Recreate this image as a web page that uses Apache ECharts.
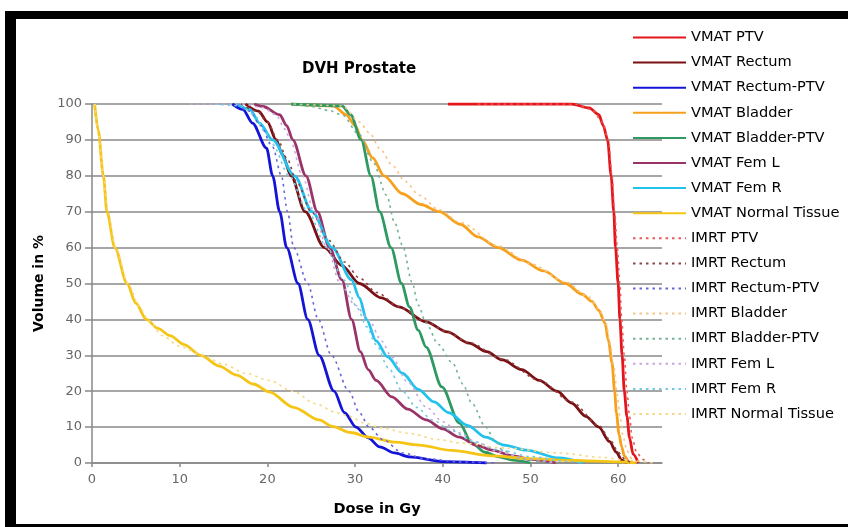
<!DOCTYPE html>
<html>
<head>
<meta charset="utf-8">
<script src="https://cdn.jsdelivr.net/npm/echarts@6/dist/echarts.min.js"></script>
<style>
html,body{margin:0;padding:0;background:#fff;}
#chart{position:absolute;left:0;top:0;width:848px;height:527px;}
#frame{position:absolute;left:5px;top:11px;width:900px;height:505px;border-left:11px solid #000;border-top:8px solid #000;border-bottom:3px solid #000;pointer-events:none;}
</style>
</head>
<body>
<div id="chart"></div>
<div id="frame"></div>
<script>
// ---- data (dose in Gy, volume in %) ----
var seriesNames = ['VMAT PTV','VMAT Rectum','VMAT Rectum-PTV','VMAT Bladder','VMAT Bladder-PTV','VMAT Fem L','VMAT Fem R','VMAT Normal Tissue',
  'IMRT PTV','IMRT Rectum','IMRT Rectum-PTV','IMRT Bladder','IMRT Bladder-PTV','IMRT Fem L','IMRT Fem R','IMRT Normal Tissue'];
var xTicks = [0,10,20,30,40,50,60];

var vmatPTV = [[40.6,100],[54.7,100],[56.7,98.9],[57.8,97],[58.3,94],[58.8,90],[59.2,80],[59.5,70],[59.7,60],[60,50],[60.2,40],[60.45,30],[60.7,20],[61,13],[61.3,7],[61.7,2.5],[62.3,0]];
var vmatRectum = [[17.5,100],[19,98],[20,95],[21,90],[21.7,86],[22.7,80],[24.3,70],[26.5,60],[28.5,55],[30.5,50],[33,46],[35,43.5],[38.1,39.3],[40.5,36.5],[43,33.4],[45,31],[46.8,28.7],[49,26],[51,23],[53,20],[54.7,16.7],[56.3,13],[57.8,10],[59,6],[59.8,3],[60.4,0.8],[61,0]];
var vmatRectumPTV = [[16,100],[17.2,98.5],[18.3,94.7],[19.9,87.7],[20.6,80],[21.4,70],[22.2,60],[23.5,50],[24.6,40],[25.9,30],[27.6,20],[28.8,14],[30.1,10],[31.5,7],[32.8,4.5],[34.5,2.8],[36.2,1.7],[40,0.4],[45,0]];
var vmatBladder = [[22.7,100],[27.5,99.5],[29,97],[30,94],[30.8,90],[32,85],[33.3,80],[35.4,75],[37.5,72],[39.6,70],[42,66.5],[44,63],[46.3,60],[49,56.5],[51.5,53.5],[54,50],[55.9,47],[57,45],[57.8,42.5],[58.5,39],[58.9,34],[59.3,27.9],[59.6,20],[59.8,14],[60.1,8],[60.4,4.5],[60.7,2],[61.2,0]];
var vmatBladderPTV = [[22.7,100],[28.5,99.5],[29.5,97],[30.7,90],[31.8,80],[32.8,70],[34.1,60],[35.3,50],[36.2,43.5],[37.2,37],[38.1,32.3],[39.9,21.2],[41.9,11.1],[43.3,5.6],[44.8,3],[46.4,1.7],[48,0.8],[50,0]];
var vmatFemL = [[18.5,100],[19.5,99.3],[21.4,97],[22.2,94],[22.9,90],[24.4,80],[25.7,70],[27.1,60],[28.5,51],[29.6,40],[30.6,31],[31.5,26],[32.4,23],[34.2,18.4],[36,15],[38.1,12],[40,9.5],[41.9,7.2],[43.8,5],[45.6,3.6],[48,2],[50,1],[53,0]];
var vmatFemR = [[16.5,100],[18,98.5],[19.1,94.7],[20.6,90],[23.1,80],[25.1,70],[27.4,60],[29.6,51],[30.5,46],[31.3,40],[32.4,34],[33.7,29.6],[35.4,25],[37.2,20.5],[39,17],[40.7,14],[42.8,10.5],[44.9,7.2],[47,5],[49.5,3.6],[53.2,1.4],[56,0]];
var vmatNormal = [[0.3,100],[0.7,92.8],[1.3,80],[1.7,70],[2.6,60],[4,50],[5,44.5],[6.2,40],[7.5,37.5],[8.9,35.5],[10.5,33],[12.4,30],[14.5,27],[16.5,24.5],[18.4,22],[20.2,19.8],[23,15.5],[25.9,12],[27.4,10.2],[29.5,8.5],[31.6,7.2],[34.5,5.8],[37.3,5],[41,3.5],[45.6,2],[50,1.2],[55,0.7],[60,0.3],[62,0]];

var imrtPTV = [[44,100],[55,100],[57,98.5],[58.2,95],[58.9,90],[59.3,80],[59.6,70],[59.9,60],[60.2,50],[60.4,40],[60.7,30],[61,20],[61.3,13],[61.6,7],[62.1,3],[62.8,1],[63.5,0]];
var imrtRectum = [[17,100],[18.8,98],[20,95],[21.2,90],[22.2,85],[23.4,78],[25,70],[27,62],[28.8,56],[30.5,51.5],[32.5,47.5],[35,43.5],[38,39.5],[40.5,36.5],[43,33.5],[46.8,29],[51,23],[54.7,17],[57.8,10.5],[59.2,6],[60,3],[60.8,1],[61.5,0]];
var imrtRectumPTV = [[16.5,100],[18,98],[19.2,94],[20.6,88],[21.6,80],[22.3,70],[23,60],[24.6,50],[25.8,40],[27.3,30],[29.3,20],[30.5,14],[31.6,10],[33.2,6.5],[35.4,2.8],[38,1.2],[42,0.3],[46,0]];
var imrtBladder = [[23,100],[28.5,99.5],[30.5,95],[31.6,92],[33,87],[34.2,83],[35.7,78.5],[37.3,74.6],[39.6,70.5],[42,67],[46.3,60.5],[50,55.5],[54,50.5],[56.5,46.5],[57.8,43],[58.6,39],[59.1,33],[59.5,27],[59.9,19],[60.2,13],[60.6,7],[61,3.5],[61.6,1],[62.3,0]];
var imrtBladderPTV = [[22.9,100],[25,99.3],[27,98.2],[28.5,97],[30.5,91.4],[32,84],[33.6,74.6],[34.5,67],[35.4,60.7],[36.5,50.4],[37.2,44],[38.1,39],[39.5,33],[41.1,27.9],[42.3,22],[43.3,16.7],[44.9,10],[46,6],[46.8,3.6],[48.5,1.5],[51,0.4],[53,0]];
var imrtFemL = [[11.2,100],[17,100],[19.5,99],[21,97],[22,93],[22.6,90],[24,80],[25.3,70],[26.8,60],[28.3,50],[30,44],[31.6,39.8],[33,34],[34.2,29.5],[36,22.5],[38.1,15.6],[40,11.5],[41.9,8.4],[44,5.5],[46.5,3],[49.5,1.2],[53,0]];
var imrtFemR = [[14,100],[17,99.5],[18.5,97],[19.8,92],[20.5,89],[22.5,80],[24.6,70],[26.8,60],[28.7,51],[30.3,43],[31.3,38],[32.4,33],[33.8,26.5],[35.4,20],[37,15.5],[38.8,12],[41,9],[43.5,6],[46.5,3.6],[50,1.8],[54,0.5],[56,0]];
var imrtNormal = [[0.3,100],[0.7,92],[1.3,80],[1.8,70],[2.7,60],[4.1,50],[5.5,43],[6.5,39.5],[8,35.5],[10,32.5],[12.6,30],[15,27.5],[17.5,25],[20.2,23],[22.9,20],[25.5,16.5],[27.9,14],[29.4,13],[31,11.2],[33,9.8],[36,8.3],[39.6,6.5],[42,5.6],[47,4.2],[53.2,2.8],[58,1.6],[61,0.8],[64,0]];

var seriesData = [vmatPTV,vmatRectum,vmatRectumPTV,vmatBladder,vmatBladderPTV,vmatFemL,vmatFemR,vmatNormal,
  imrtPTV,imrtRectum,imrtRectumPTV,imrtBladder,imrtBladderPTV,imrtFemL,imrtFemR,imrtNormal];

// ---- styles ----
var colors = ['#e4161c','#7a1014','#1414d8','#f7a01c','#2e9a62','#9a3468','#22c2ec','#f5c516',
  '#e85a5a','#8c4444','#6666d8','#f5c484','#74b294','#c8a8dc','#74c8e2','#f5d884'];

var series = seriesNames.map(function(n,i){
  var imrt = i >= 8;
  return {
    name: n, type: 'line', data: seriesData[i], symbol: 'none',
    smooth: 0.3, smoothMonotone: 'x',
    lineStyle: imrt ? {color: colors[i], width: 1.6, type: [2.5,4]} : {color: colors[i], width: 2.8},
    itemStyle: {color: colors[i]},
    z: imrt ? 3 : 2
  };
});

var chart = echarts.init(document.getElementById('chart'), null, {renderer:'canvas'});
chart.setOption({
  animation: false,
  backgroundColor: 'transparent',
  title: {
    text: 'DVH Prostate', left: 302, top: 62, padding: 0,
    textStyle: {fontFamily: 'DejaVu Sans', fontWeight: 'bold', fontSize: 15, color: '#000'}
  },
  legend: {
    orient: 'vertical', left: 632, top: 30, padding: 0,
    itemWidth: 53, itemHeight: 14, itemGap: 10.1,
    itemStyle: {opacity: 0},
    data: seriesNames,
    textStyle: {fontFamily: 'DejaVu Sans', fontSize: 14.6, color: '#000', lineHeight: 14}
  },
  grid: {left: 92, right: 186, top: 104, bottom: 64, containLabel: false},
  xAxis: {
    type: 'value', min: 0, max: 65, interval: 10,
    name: 'Dose in Gy', nameLocation: 'middle', nameGap: 39,
    nameTextStyle: {fontFamily: 'DejaVu Sans', fontWeight: 'bold', fontSize: 14.5, color: '#000'},
    axisLine: {show: true, lineStyle: {color: '#888', width: 1.5}},
    axisTick: {show: true, length: 4, lineStyle: {color: '#888', width: 1.5}, customValues: xTicks},
    axisLabel: {color: '#666', fontFamily: 'DejaVu Sans', fontSize: 13, margin: 10, customValues: xTicks},
    splitLine: {show: false}
  },
  yAxis: {
    type: 'value', min: 0, max: 100, interval: 10,
    name: 'Volume in %', nameLocation: 'middle', nameGap: 37,
    nameTextStyle: {fontFamily: 'DejaVu Sans', fontWeight: 'bold', fontSize: 14, color: '#000'},
    axisLine: {show: true, lineStyle: {color: '#888', width: 1.5}},
    axisTick: {show: true, length: 7, lineStyle: {color: '#888', width: 1.5}},
    axisLabel: {color: '#666', fontFamily: 'DejaVu Sans', fontSize: 13, margin: 10},
    splitLine: {show: true, lineStyle: {color: '#888', width: 1.5}}
  },
  series: series
});
</script>
</body>
</html>
